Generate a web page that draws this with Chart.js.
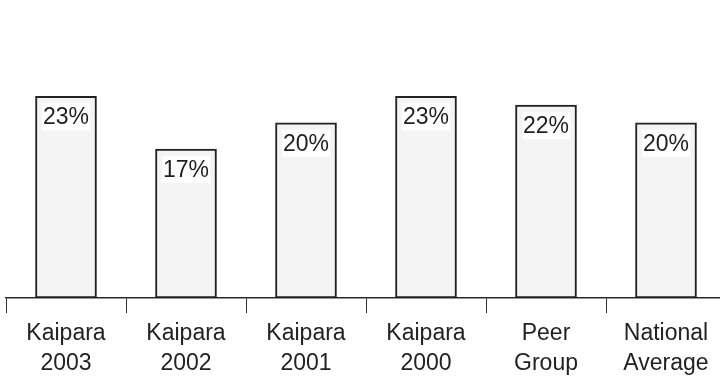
<!DOCTYPE html>
<html>
<head>
<meta charset="utf-8">
<script src="https://cdn.jsdelivr.net/npm/chart.js@4/dist/chart.umd.min.js"></script>
<style>
  html, body { margin: 0; padding: 0; background: #fff; overflow: hidden; }
  #wrap { position: relative; width: 732px; height: 378px; }
</style>
</head>
<body>
<div id="wrap"><canvas id="grafico"></canvas></div>
<script>
// Categorias e valores (%)
const categorias = [
  ['Kaipara', '2003'],
  ['Kaipara', '2002'],
  ['Kaipara', '2001'],
  ['Kaipara', '2000'],
  ['Peer', 'Group'],
  ['National', 'Average']
];
const valores = [23, 17, 20, 23, 22, 20];

// Rótulo com fundo branco dentro do topo de cada barra
const rotuloBarras = {
  id: 'rotuloBarras',
  afterDatasetsDraw(chart) {
    const ctx = chart.ctx;
    const meta = chart.getDatasetMeta(0);
    ctx.save();
    ctx.font = '23px "Liberation Sans", Arial, sans-serif';
    ctx.textAlign = 'center';
    ctx.textBaseline = 'alphabetic';
    meta.data.forEach((bar, i) => {
      const txt = valores[i] + '%';
      const w = ctx.measureText(txt).width + 2;
      const top = bar.y + 7;
      ctx.fillStyle = '#ffffff';
      ctx.fillRect(bar.x - w / 2, top, w, 27);
      ctx.fillStyle = '#1e1e1e';
      ctx.fillText(txt, bar.x, top + 21);
    });
    ctx.restore();
  }
};

new Chart(document.getElementById('grafico'), {
  type: 'bar',
  data: {
    labels: categorias,
    datasets: [{
      data: valores,
      backgroundColor: '#f4f4f4',
      borderColor: '#222222',
      borderWidth: 2,
      borderSkipped: false,
      barThickness: 61
    }]
  },
  options: {
    responsive: true,
    maintainAspectRatio: false,
    animation: false,
    layout: { padding: { left: 6, right: 6, top: 0, bottom: 0 } },
    plugins: {
      legend: { display: false },
      tooltip: { enabled: false }
    },
    scales: {
      x: {
        offset: true,
        grid: {
          offset: true,
          drawOnChartArea: false,
          drawTicks: true,
          tickLength: 15,
          color: '#333333',
          lineWidth: 1
        },
        border: { display: true, color: '#2a2a2a', width: 1.5 },
        ticks: {
          color: '#222222',
          padding: 6,
          maxRotation: 0,
          autoSkip: false,
          font: { family: '"Liberation Sans", Arial, sans-serif', size: 23, lineHeight: 1.3 }
        },
        afterFit(scale) { scale.height = 80; }
      },
      y: {
        display: false,
        min: 0,
        max: 34
      }
    }
  },
  plugins: [rotuloBarras]
});
</script>
</body>
</html>
